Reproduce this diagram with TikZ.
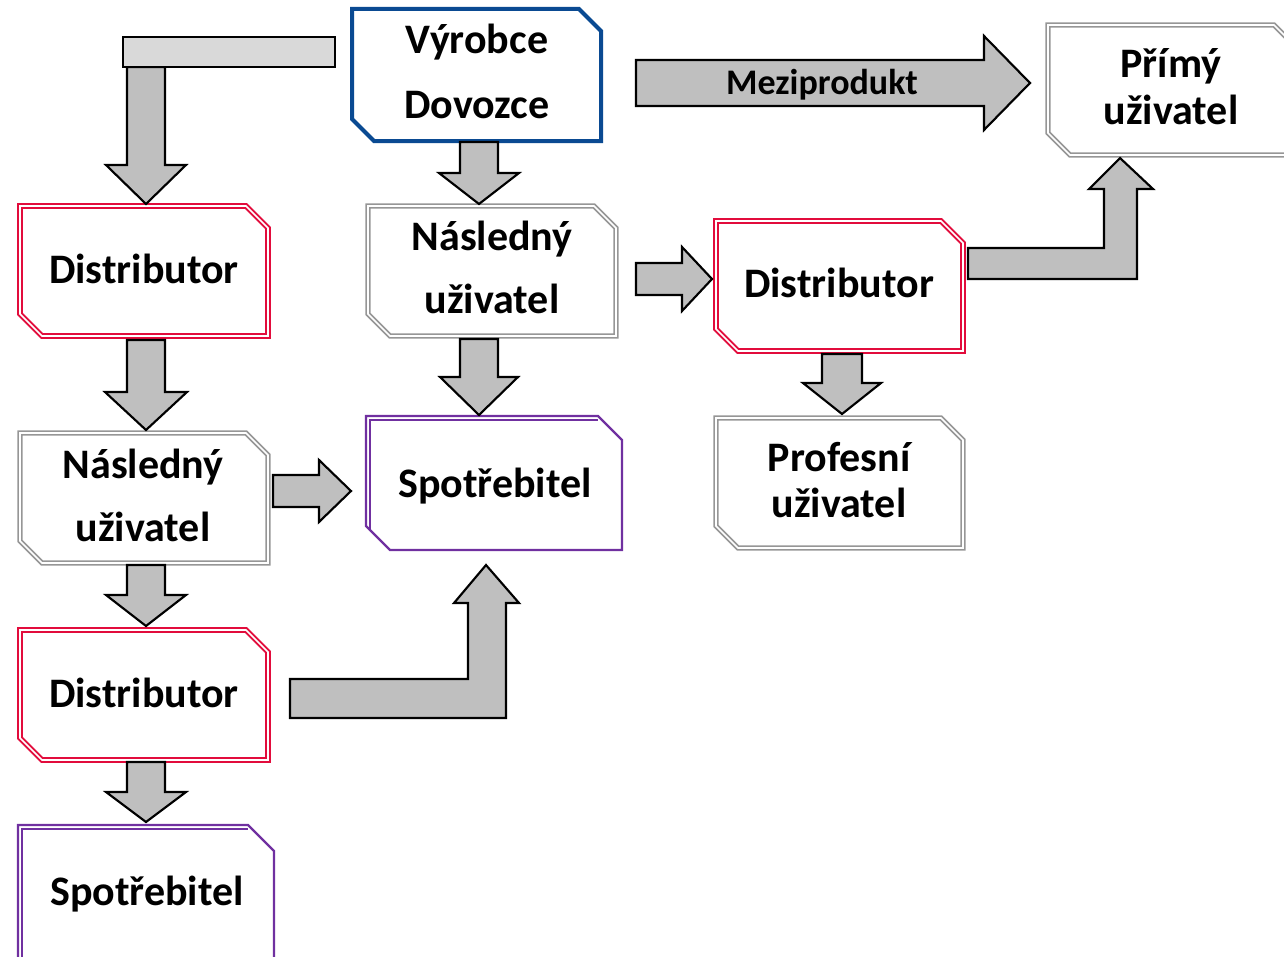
\documentclass[tikz,border=0pt]{standalone}
\usepackage{fontspec}
\setmainfont{Carlito}
\definecolor{rd}{RGB}{226,12,60}
\definecolor{bl}{RGB}{10,74,146}
\definecolor{gr}{RGB}{150,150,150}
\definecolor{pu}{RGB}{112,48,160}
\definecolor{af}{RGB}{191,191,191}
\definecolor{lf}{RGB}{217,217,217}
\newcommand\cutbox[6]{\draw[#1] (#2,#3) -- ({#4-#6},#3) -- (#4,{#3+#6}) -- (#4,#5) -- ({#2+#6},#5) -- (#2,{#5-#6}) -- cycle;}
\newcommand\blkdown[6]{\draw[blk] ({#1-#5},#2) -- ({#1-#5},#3) -- ({#1-#6},#3) -- (#1,#4) -- ({#1+#6},#3) -- ({#1+#5},#3) -- ({#1+#5},#2) -- cycle;}
\newcommand\blkright[6]{\draw[blk] (#1,{#4-#5}) -- (#2,{#4-#5}) -- (#2,{#4-#6}) -- (#3,#4) -- (#2,{#4+#6}) -- (#2,{#4+#5}) -- (#1,{#4+#5}) -- cycle;}
\tikzset{
  redbox/.style={draw=rd, double=white, line width=1.5pt, double distance=1.2pt},
  graybox/.style={draw=gr, double=white, line width=1.3pt, double distance=1.2pt},
  bluebox/.style={draw=bl, line width=3pt, fill=white},
  purplebox/.style={draw=pu, line width=1.6pt},
  blk/.style={draw=black, fill=af, line width=1.6pt, line join=miter},
  lbl/.style={anchor=base, inner sep=0pt, font=\fontsize{31.5}{38}\selectfont\bfseries},
  mlbl/.style={anchor=base, inner sep=0pt, font=\fontsize{27}{32}\selectfont\bfseries}
}
\begin{document}
\begin{tikzpicture}[x=0.75pt,y=-0.75pt]
\useasboundingbox (0,0) rectangle (1284,956);
% boxes
\cutbox{bluebox}{352}{9}{601}{141}{22}
\cutbox{redbox}{20}{206}{268}{336}{22}
\cutbox{graybox}{368}{206}{616}{336}{22}
\cutbox{redbox}{716}{221}{963}{351}{22}
\cutbox{graybox}{1048}{25}{1296}{155}{22}
\cutbox{graybox}{20}{433}{268}{563}{22}
\cutbox{purplebox}{366}{416}{622}{550}{24}
\draw[purplebox] (370,530) -- (370,420) -- (598,420);
\cutbox{graybox}{716}{418}{963}{548}{22}
\cutbox{redbox}{20}{630}{268}{760}{22}
\cutbox{purplebox}{18}{825}{274}{985}{26}
\draw[purplebox] (22,962) -- (22,829) -- (248,829);
% texts
\node[lbl] (vd1) at (477,54) {Výrobce};
\node[lbl] (vd2) at (477,118) {Dovozce};
\node[lbl] (d1) at (144,283) {Distributor};
\node[lbl] (n1a) at (492,250) {Následný};
\node[lbl] (n1b) at (492,313) {uživatel};
\node[lbl] (d2) at (839,297) {Distributor};
\node[lbl] (pu1) at (1171,78) {Přímý};
\node[lbl] (pu2) at (1171,124) {uživatel};
\node[lbl] (n2a) at (143,478) {Následný};
\node[lbl] (n2b) at (143,541) {uživatel};
\node[lbl] (s1) at (495,497) {Spotřebitel};
\node[lbl] (pr1) at (839,471) {Profesní};
\node[lbl] (pr2) at (839,517) {uživatel};
\node[lbl] (d3) at (144,707) {Distributor};
\node[lbl] (s2) at (147,905) {Spotřebitel};
% block arrows
\blkdown{146}{67}{165}{204}{19}{40}
\draw[blk, fill=lf] (123,37) rectangle (335,67);
\blkdown{479}{142}{173}{204}{19}{40}
\blkdown{146}{340}{392}{430}{19}{41}
\blkdown{479}{339}{377}{415}{19}{39}
\blkdown{146}{565}{595}{626}{19}{40}
\blkdown{146}{762}{792}{822}{19}{40}
\blkdown{842}{354}{383}{414}{20}{39}
\blkright{636}{984}{1030}{83}{23}{47}
\blkright{636}{682}{712}{279}{16}{32}
\blkright{273}{319}{351}{491}{16}{31}
\draw[blk] (968,248) -- (1104,248) -- (1104,189) -- (1089,189) -- (1120,158) -- (1153,189) -- (1137,189) -- (1137,279) -- (968,279) -- cycle;
\draw[blk] (290,679) -- (468,679) -- (468,603) -- (454,603) -- (486,565) -- (519,603) -- (506,603) -- (506,718) -- (290,718) -- cycle;
\node[mlbl] (mp) at (822,94) {Meziprodukt};
\end{tikzpicture}
\end{document}
